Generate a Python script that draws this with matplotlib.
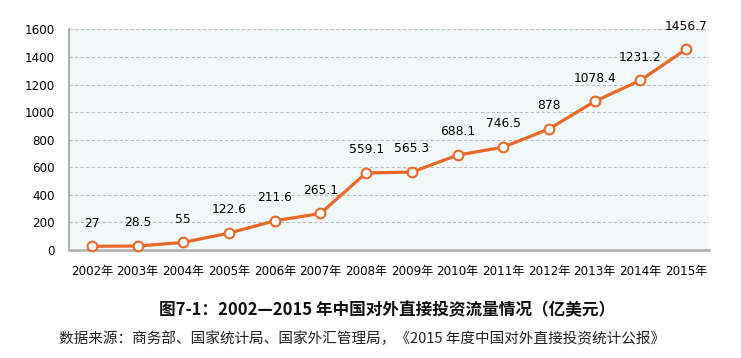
# 2002-2015 China outward FDI flows line chart

import matplotlib
matplotlib.use('Agg')
import matplotlib.pyplot as plt

plt.rcParams['font.family'] = ['DejaVu Sans', 'Noto Sans CJK SC']

years = ['2002年', '2003年', '2004年', '2005年', '2006年', '2007年', '2008年',
         '2009年', '2010年', '2011年', '2012年', '2013年', '2014年', '2015年']
values = [27, 28.5, 55, 122.6, 211.6, 265.1, 559.1,
          565.3, 688.1, 746.5, 878, 1078.4, 1231.2, 1456.7]
value_labels = ['27', '28.5', '55', '122.6', '211.6', '265.1', '559.1',
                '565.3', '688.1', '746.5', '878', '1078.4', '1231.2', '1456.7']
yticks = [0, 200, 400, 600, 800, 1000, 1200, 1400, 1600]

title = '图7-1：2002—2015 年中国对外直接投资流量情况（亿美元）'
source = '数据来源：商务部、国家统计局、国家外汇管理局，《2015 年度中国对外直接投资统计公报》'

orange = '#E8692A'

fig = plt.figure(figsize=(7.41, 3.58), dpi=100)
ax = fig.add_axes([0.0931, 0.3017, 0.8637, 0.6159])
ax.set_facecolor('#F3F8F8')

x = list(range(len(years)))
ax.plot(x, values, color=orange, lw=2.3, marker='o', ms=7,
        mfc='white', mec=orange, mew=1.5, zorder=3, clip_on=False)

for xi, v, lab in zip(x, values, value_labels):
    ax.annotate(lab, (xi, v), xytext=(0, 12), textcoords='offset points',
                ha='center', va='bottom', fontsize=8.8, color='#000000')

ax.set_xlim(-0.5, 13.5)
ax.set_ylim(0, 1600)
ax.set_yticks(yticks)
ax.set_xticks(x)
ax.set_xticklabels(years)
ax.tick_params(axis='both', length=0, labelsize=8.6, colors='#000000')
ax.tick_params(axis='x', pad=11)
ax.tick_params(axis='y', pad=10)

ax.grid(axis='y', color='#BDBDBD', ls=(0, (3, 2)), lw=0.8)
ax.set_axisbelow(True)
for s in ['top', 'right']:
    ax.spines[s].set_visible(False)
ax.spines['left'].set_color('#A8A8A8')
ax.spines['left'].set_linewidth(1.3)
ax.spines['bottom'].set_color('#B0B0B0')
ax.spines['bottom'].set_linewidth(1.8)

fig.text(0.522, 1 - 310 / 358, title, ha='center', va='center',
         fontsize=12, fontweight='bold', family=['Noto Sans CJK SC', 'DejaVu Sans'],
         color='#111111')
fig.text(0.489, 1 - 339 / 358, source, ha='center', va='center',
         fontsize=10.5, family=['Noto Sans CJK SC', 'DejaVu Sans'], color='#222222')

fig.savefig('out.png', dpi=100)
